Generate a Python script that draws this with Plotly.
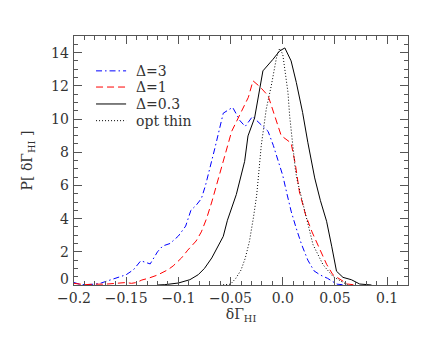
import plotly.graph_objects as go

# Δ=3 (blue, dash-dot)
x_d3 = [-0.200, -0.195, -0.190, -0.185, -0.180, -0.174, -0.164, -0.158, -0.150, -0.143,
        -0.136, -0.127, -0.120, -0.115, -0.108, -0.100, -0.093, -0.088, -0.083, -0.078,
        -0.074, -0.065, -0.057, -0.052, -0.048, -0.041, -0.036, -0.029, -0.022, -0.014,
        -0.009, 0.000, 0.004, 0.008, 0.013, 0.018, 0.024, 0.030, 0.036, 0.043, 0.048,
        0.052, 0.060]
y_d3 = [0.15, 0.05, 0.02, 0.03, 0.05, 0.12, 0.32, 0.42, 0.62, 0.92,
        1.46, 1.27, 2.0, 2.35, 2.5, 2.95, 3.55, 4.5, 4.8, 5.2,
        6.0, 8.25, 10.35, 10.55, 10.7, 9.9, 9.55, 10.15, 9.75, 9.25,
        8.4, 6.6, 5.5, 4.45, 3.4, 2.45, 1.5, 0.85, 0.6, 0.4, 0.2,
        0.05, 0.0]

# Δ=1 (red, dashed)
x_d1 = [-0.200, -0.190, -0.180, -0.170, -0.160, -0.150, -0.145, -0.140, -0.135, -0.129,
        -0.120, -0.115, -0.110, -0.105, -0.097, -0.091, -0.083, -0.078, -0.073, -0.068,
        -0.062, -0.055, -0.049, -0.041, -0.033, -0.0285, -0.022, -0.014, -0.008, -0.0015,
        0.008, 0.012, 0.016, 0.022, 0.028, 0.034, 0.042, 0.048, 0.056, 0.062, 0.070]
y_d1 = [0.1, 0.02, 0.05, 0.05, 0.1, 0.15, 0.1, 0.15, 0.3, 0.4,
        0.6, 0.75, 0.92, 1.15, 1.63, 2.1, 2.65, 3.2, 4.0, 5.0,
        6.4, 7.9, 9.25, 10.3, 11.3, 12.3, 11.95, 11.4, 10.3, 9.0,
        8.55, 7.3, 5.6, 4.2, 3.2, 2.4, 1.25, 0.62, 0.32, 0.06, 0.0]

# Δ=0.3 (black, solid)
x_d03 = [-0.120, -0.113, -0.100, -0.089, -0.081, -0.075, -0.068, -0.062, -0.057, -0.053,
         -0.046, -0.0445, -0.0365, -0.0333, -0.027, -0.0237, -0.019, -0.0093, -0.003, 0.002,
         0.008, 0.013, 0.019, 0.024, 0.0306, 0.036, 0.042, 0.047, 0.0515, 0.0577,
         0.0657, 0.0737, 0.085]
y_d03 = [0.0, 0.02, 0.12, 0.32, 0.62, 1.0, 1.63, 2.3, 2.93, 3.9,
         5.25, 5.45, 7.45, 8.98, 10.06, 11.27, 12.9, 13.6, 14.1, 14.28,
         13.5, 12.2, 10.4, 8.6, 6.45, 5.1, 3.84, 2.3, 0.83, 0.46,
         0.32, 0.06, 0.0]

# optically thin (black, dotted)
x_thin = [-0.060, -0.050, -0.045, -0.040, -0.036, -0.032, -0.028, -0.025, -0.0235, -0.0206,
          -0.0158, -0.011, -0.006, -0.003, 0.000, 0.002, 0.005, 0.0066, 0.0085, 0.012,
          0.0135, 0.021, 0.029, 0.0386, 0.048, 0.056, 0.0625]
y_thin = [0.0, 0.05, 0.4, 0.9, 1.6, 2.6, 4.1, 5.4, 6.4, 8.4,
          10.6, 12.0, 13.7, 14.25, 13.9, 13.0, 11.6, 10.2, 9.0, 7.0,
          6.4, 4.44, 2.43, 1.22, 0.52, 0.22, 0.0]

series_names = ["\u0394=3", "\u0394=1", "\u0394=0.3", "opt thin"]
series_colors = ["#0000ff", "#ff0000", "#000000", "#000000"]
series_dashes = ["6px,3px,1.5px,3px", "7px,4px", "solid", "1px,2px"]

x_ticks = [-0.2, -0.15, -0.1, -0.05, 0.0, 0.05, 0.1]
x_tick_labels = ["\u22120.2", "\u22120.15", "\u22120.1", "\u22120.05", "0.0", "0.05", "0.1"]
y_ticks = [0, 2, 4, 6, 8, 10, 12, 14]
y_tick_labels = ["0", "2", "4", "6", "8", "10", "12", "14"]

FONT = "DejaVu Serif"
TXT = "#333333"
AX = "#555555"

fig = go.Figure()
for xs, ys, nm, col, ds in zip([x_d3, x_d1, x_d03, x_thin], [y_d3, y_d1, y_d03, y_thin],
                                series_names, series_colors, series_dashes):
    fig.add_trace(go.Scatter(x=xs, y=ys, mode="lines", name=nm, showlegend=False,
                             line=dict(color=col, width=1, dash=ds)))

axis_common = dict(showgrid=False, zeroline=False, showline=True, linecolor=AX, linewidth=1,
                   mirror="ticks", ticks="inside", tickcolor=AX, ticklen=8, tickwidth=1,
                   tickfont=dict(family=FONT, size=14, color=TXT))

fig.update_xaxes(range=[-0.2, 0.12], tickvals=x_ticks, ticktext=x_tick_labels,
                 minor=dict(ticks="inside", dtick=0.01, tick0=0, ticklen=4, tickcolor=AX),
                 title=dict(text="\u03b4\u0393<sub>HI</sub>", font=dict(family=FONT, size=14, color=TXT),
                            standoff=0),
                 **axis_common)
fig.update_yaxes(range=[0, 15], tickvals=y_ticks, showticklabels=False,
                 minor=dict(ticks="inside", dtick=0.5, tick0=0, ticklen=4, tickcolor=AX),
                 title=dict(text="P[ \u03b4\u0393<sub>HI</sub> ]", font=dict(family=FONT, size=14, color=TXT),
                            standoff=37),
                 **axis_common)

# y tick labels (lowest one raised as in the reference)
for val, lab in zip(y_ticks, y_tick_labels):
    fig.add_annotation(x=0, xref="paper", y=val, yref="y", text=lab, showarrow=False,
                       xanchor="right", yanchor="middle", xshift=-3,
                       yshift=6 if val == 0 else 0,
                       font=dict(family=FONT, size=14, color=TXT))

# legend drawn in the upper-left corner of the plot area (paper coordinates)
leg_x0, leg_x1, leg_tx = 0.066, 0.156, 0.18
leg_y = [0.86, 0.795, 0.727, 0.66]
for yy, nm, col, ds in zip(leg_y, series_names, series_colors, series_dashes):
    fig.add_shape(type="line", xref="paper", yref="paper", x0=leg_x0, x1=leg_x1, y0=yy, y1=yy,
                  line=dict(color=col, width=1, dash=ds))
    fig.add_annotation(x=leg_tx, y=yy, xref="paper", yref="paper", text=nm, showarrow=False,
                       xanchor="left", yanchor="middle",
                       font=dict(family=FONT, size=14, color=TXT))

fig.update_layout(
    width=436, height=354,
    margin=dict(l=66, r=36, t=28, b=77),
    paper_bgcolor="white", plot_bgcolor="white",
    showlegend=False,
)

fig.write_html("out.html")
